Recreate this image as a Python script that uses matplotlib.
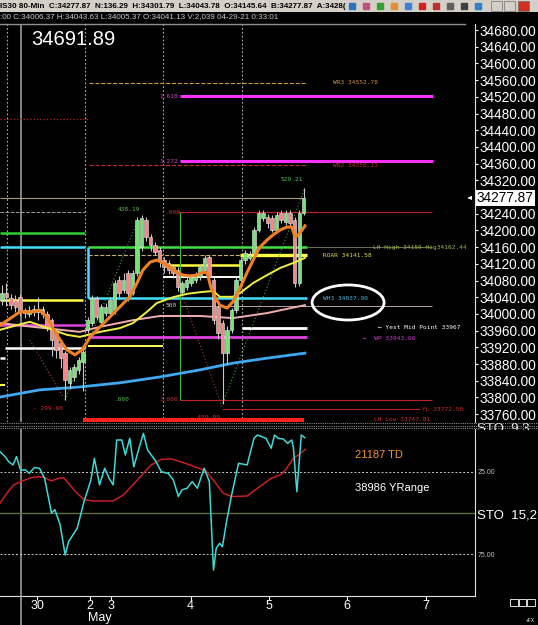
import matplotlib
matplotlib.use("Agg")
import matplotlib.pyplot as plt
from matplotlib.patches import Ellipse, Rectangle
from matplotlib.lines import Line2D
from matplotlib.transforms import blended_transform_factory

plt.rcParams['font.family'] = ['Liberation Sans', 'DejaVu Sans']

W, H = 538, 625

# 80-min candles, one per bar index
opens = [34033, 34050, 34038, 34033, 34040, 34009, 34000, 34004, 34012, 34000,
         34000, 33985, 33954, 33930, 33906, 33835, 33850, 33866, 33885, 33962,
         33978, 34038, 33981, 34002, 34002, 34009, 34081, 34057, 34098, 34050,
         34098, 34160, 34225, 34184, 34165, 34153, 34129, 34122, 34112, 34105,
         34052, 34064, 34074, 34081, 34088, 34105, 34136, 34081, 34017, 33978,
         33906, 33962, 34009, 34081, 34129, 34134, 34146, 34201, 34230, 34232,
         34230, 34201, 34242, 34220, 34242, 34225, 34074, 34242]
closes = [34050, 34040, 34021, 34016, 34004, 34002, 34010, 34012, 34005, 34012,
          33967, 33938, 33914, 33894, 33842, 33866, 33873, 33890, 33909, 33985,
          34038, 33993, 34017, 34017, 34033, 34074, 34050, 34081, 34050, 34098,
          34225, 34230, 34184, 34165, 34148, 34129, 34112, 34105, 34098, 34064,
          34074, 34081, 34088, 34093, 34112, 34134, 34088, 33985, 33954, 33906,
          33962, 34009, 34081, 34129, 34146, 34141, 34201, 34242, 34242, 34218,
          34201, 34237, 34225, 34242, 34218, 34074, 34242, 34278]
highs = [34070, 34075, 34048, 34045, 34048, 34015, 34018, 34022, 34040, 34018,
         34008, 33990, 33960, 33938, 33912, 33872, 33880, 33896, 33925, 33992,
         34045, 34042, 34024, 34025, 34040, 34082, 34090, 34098, 34105, 34105,
         34232, 34238, 34232, 34192, 34172, 34160, 34136, 34130, 34120, 34112,
         34080, 34090, 34095, 34100, 34120, 34141, 34142, 34088, 34022, 33985,
         33970, 34015, 34088, 34136, 34152, 34150, 34208, 34250, 34250, 34240,
         34238, 34244, 34250, 34248, 34248, 34232, 34250, 34302]
lows = [34022, 34020, 34012, 34005, 33995, 33990, 33992, 33995, 33985, 33990,
        33960, 33900, 33895, 33870, 33794, 33820, 33840, 33855, 33815, 33955,
        33970, 33985, 33975, 33996, 33995, 34000, 34040, 34050, 34030, 34045,
        34090, 34150, 34175, 34150, 34140, 34112, 34098, 34095, 34085, 34055,
        34045, 34058, 34068, 34075, 34082, 34098, 34080, 33975, 33940, 33785,
        33880, 33955, 34002, 34075, 34120, 34128, 34140, 34195, 34222, 34205,
        34195, 34196, 34218, 34212, 34210, 34064, 34068, 34236]
last_price = 34277.87

# moving averages (bar, price)
ma_fast_x = [-0.4, 4.0, 6.9, 8.4, 10.0, 11.3, 12.9, 14.4, 16.2, 17.8, 19.6, 21.8,
             24.0, 26.2, 28.4, 30.0, 31.3, 32.9, 34.4, 35.8, 37.3, 38.9, 40.2,
             41.8, 43.3, 44.7, 45.6, 46.4, 47.3, 48.4, 50.0, 51.3, 52.9, 54.4,
             55.8, 57.3, 58.9, 60.2, 61.8, 63.3, 64.4, 65.1, 65.8, 66.7, 67.3]
ma_fast = [33973, 34005, 34005, 34009, 33993, 33966, 33938, 33914, 33902, 33914,
           33945, 33969, 33993, 34017, 34041, 34074, 34105, 34124, 34129, 34122,
           34112, 34100, 34093, 34091, 34093, 34100, 34098, 34064, 34041, 34021,
           34014, 34029, 34062, 34098, 34129, 34160, 34177, 34189, 34201, 34208,
           34208, 34184, 34189, 34201, 34211]
ma_mid_x = [-0.4, 4.0, 6.2, 10.7, 14.4, 17.3, 21.8, 26.2, 29.1, 32.2, 34.4, 38.0,
            41.1, 44.0, 46.9, 48.4, 51.3, 52.9, 55.8, 58.9, 61.8, 64.7, 67.3]
ma_mid = [33962, 33975, 33981, 33964, 33950, 33945, 33957, 33966, 33978, 34005,
          34026, 34040, 34048, 34052, 34055, 34041, 34041, 34050, 34074, 34093,
          34110, 34122, 34134]
ma_slow_x = [-0.4, 6.9, 17.3, 21.8, 29.1, 35.1, 44.0, 51.3, 58.9, 67.3]
ma_slow = [33978, 33969, 33957, 33969, 33985, 33995, 33995, 33990, 34002, 34021]
ma_long_x = [-0.4, 8.4, 17.3, 26.2, 35.1, 44.0, 51.3, 58.9, 67.3]
ma_long = [33801, 33818, 33825, 33835, 33849, 33866, 33882, 33894, 33906]

# stochastic 9,3
sto_k_x = [-0.44, 0.69, 1.47, 2.44, 3.22, 4.13, 5.27, 6.04, 7.18, 8.33,
           9.47, 11.0, 11.76, 12.91, 14.04, 14.8, 16.71, 18.24, 19.76, 20.53,
           21.67, 22.82, 23.8, 24.71, 25.49, 26.62, 27.4, 28.38, 29.29, 30.44,
           31.42, 32.36, 34.24, 35.4, 36.93, 38.07, 39.2, 39.98, 41.11, 42.27,
           43.4, 44.93, 46.07, 47.0, 47.6, 48.36, 48.98, 49.89, 51.02, 52.56,
           54.47, 55.98, 56.76, 58.67, 59.8, 60.56, 61.33, 62.47, 63.47, 64.38,
           64.76, 65.51, 66.51, 67.27]
sto_k = [12.9, 15.9, 18.9, 20.9, 15.9, 24, 24, 26, 22.5, 22.9,
         29, 50, 48, 57, 75.4, 67.3, 59.2, 43, 30, 16.9,
         33, 22.9, 29, 33, 5.8, 5.8, 14.9, 4.8, 22, 10.8,
         1.8, 11.9, 18.9, 25, 26, 30, 40, 36, 35, 31,
         35, 22.9, 31, 84.5, 71.3, 68.3, 70.4, 55.2, 39.1, 19.9,
         20.9, 4.8, 2.8, 4.8, 10.8, 2.8, 4.8, 5.2, 7.8, 5.8,
         10.8, 37.1, 2.8, 4.4]
sto_d_x = [-0.44, 1.09, 2.6, 4.13, 6.42, 8.33, 9.47, 11.0, 12.51, 13.67,
           14.8, 16.33, 18.24, 20.16, 24.71, 27.0, 30.07, 33.11, 35.4, 37.69,
           40.73, 43.78, 45.31, 47.22, 49.13, 51.02, 54.47, 56.76, 59.8, 62.09,
           63.24, 64.76, 66.29, 67.42]
sto_d = [44, 38, 33, 31, 28.6, 28, 28.6, 30.6, 29, 28.6,
         32, 37, 42, 42.7, 42.7, 39, 30, 21, 17.5, 17.3,
         19.9, 22.9, 24.6, 31, 38, 40, 39.7, 35, 29, 26.6,
         22.9, 16.9, 13.9, 11.4]

# time axis
day_ticks = [7.78, 19.47, 24.33, 41.89, 59.42, 76.73, 94.27]
day_labels = ['30', '2', '3', '4', '5', '6', '7']
day_breaks = [1.11, 18.44, 35.78, 53.33]
cursor_bar = 4.29

price_ticks = [34680 - 40 * k for k in range(24) if k != 10]

# horizontal levels: price, first bar, last bar
level_price = [34552.78, 34356.13, 34522, 34366, 34467, 34277, 34243, 34243,
               34193, 34161, 34161, 34161, 34037.9, 34141, 34033, 34117,
               34141.58, 33924, 33830, 33918, 33894, 34088, 33967, 33973,
               33943.66, 34019, 33794, 33772.5, 33746]
level_start = [19.33, 19.33, 39.56, 39.56, -0.5, -0.5, 39.11, -0.5,
               -0.5, -0.5, 19.18, 67.7, 19.18, 19.18, -0.5, 35.78,
               52.89, 19.18, -0.5, 0.67, -0.5, 35.78, 53.27, -0.5,
               19.18, 39.56, 39.56, 48.82, 18.0]
level_end = [67.78, 67.78, 95.78, 95.78, 19.0, 66.89, 95.49, 18.44,
             18.44, 18.44, 67.7, 95.49, 67.71, 52.89, 18.0, 52.89,
             67.71, 35.78, 0.67, 18.44, 0.67, 52.89, 67.71, 18.44,
             67.71, 95.49, 95.49, 92.89, 67.0]
level_color = ['#d09848', '#c03030', '#ff30ff', '#ff30ff', '#c02020', '#a8a070',
               '#c02020', '#a0a0a0', '#30d030', '#40e0ff', '#40e040', '#808060',
               '#40e0ff', '#c0b080', '#ffff40', '#ffff40', '#ffff40', '#ffff60',
               '#ffff40', 'white', 'white', 'white', 'white', '#e040e0',
               '#e040e0', '#b8a0a0', '#c02020', '#c02020', '#ff2020']
level_width = [0.8, 0.8, 2.2, 2.2, 0.9, 0.8, 0.8, 0.7, 1.8, 1.8, 1.8, 0.6,
               1.8, 0.8, 1.8, 1.8, 2.4, 1.4, 1.5, 1.8, 1.8, 1.4, 2.0, 1.8,
               2.0, 0.7, 0.8, 0.8, 3.0]
level_style = ['--', '--', '-', '-', ':', '-', '-', '--', '-', '-', '-', '-',
               '-', '--', '-', '-', '-', '-', '-', '-', '-', '-', '-', '-',
               '-', '-', '-', '-', '-']

# fib / swing drawing tools (bar, price)
swing_lines = [((14.0, 33794), (30.2, 34225), '#40a040'),
               ((6.2, 33937), (13.6, 33801), '#a05050'),
               ((38.9, 34081), (48.9, 33777), '#a04040'),
               ((49.1, 33787), (67.3, 34302), '#40a040')]

labels = [(39.07, 34521, '1.618', '#d040d0', 'right'),
          (39.07, 34365, '1.272', '#d040d0', 'right'),
          (73.56, 34553.8, 'WR3 34552.78', '#d09040', 'left'),
          (73.56, 34356, 'WR2 34356.13', '#c03030', 'left'),
          (61.8, 34321, '529.21', '#50c050', 'left'),
          (25.8, 34251, '438.19', '#50c050', 'left'),
          (36.4, 34243, '.000', '#d03030', 'left'),
          (36.4, 34019, '500', '#d0d0d0', 'left'),
          (34.9, 33794, '1.000', '#d03030', 'left'),
          (25.1, 33794, '.000', '#50c050', 'left'),
          (6.9, 33774, '- 299.90', '#d03030', 'left'),
          (41.8, 33753, '- 459.99', '#d03030', 'left'),
          (82.7, 33746, 'LH Low 33747.01', '#d03030', 'left'),
          (82.4, 34159, 'LH High 34150 Hig34162.44', '#98c040', 'left'),
          (71.3, 34139, 'ROAR 34141.58', '#e0e040', 'left'),
          (71.3, 34036, 'WH3 34037.90', '#40c0e0', 'left'),
          (83.6, 33967, '\u2190 Yest Mid Point 33967', 'white', 'left'),
          (80.2, 33942, '\u2190  WP 33943.66', '#d040d0', 'left'),
          (93.3, 33770, 'YL 33772.50', '#d03030', 'left')]

fig = plt.figure(figsize=(W / 100, H / 100), dpi=100, facecolor='black')
ax = fig.add_axes([0, 1 - 422 / H, 475 / W, 398 / H], facecolor='black')
ax2 = fig.add_axes([0, 1 - 596 / H, 475 / W, 167 / H], facecolor='black', sharex=ax)
ax.set_xlim(-0.444, 105.1)
ax.set_ylim(33741.1, 34694.4)
ax2.set_ylim(100.2, -0.85)

for a in (ax, ax2):
    for s in a.spines.values():
        s.set_visible(False)
    a.spines['right'].set_visible(True)
    a.spines['right'].set_color('#e0e0e0')
ax2.spines['bottom'].set_visible(True)
ax2.spines['bottom'].set_color('#e0e0e0')

# --- price panel
for b in day_breaks:
    ax.axvline(b, color='#b0b0b0', ls=(0, (1.5, 2)), lw=0.8, zorder=1)
ax.axvline(cursor_bar, color='#9a9a9a', lw=1.2, zorder=2)
ax2.axvline(cursor_bar, color='#9a9a9a', lw=1.2, zorder=2)

for p, s, e, c, w, st in zip(level_price, level_start, level_end,
                             level_color, level_width, level_style):
    ax.hlines(p, s, e, colors=c, linewidth=w, linestyles=st, zorder=2)
ax.vlines(19.18, 34037.9, 34161, colors='#40e0ff', linewidth=1.8, zorder=2)
ax.vlines(39.56, 33794, 34243, colors='#40b040', linewidth=0.8, zorder=2)

for (x0, y0), (x1, y1), c in swing_lines:
    ax.plot([x0, x1], [y0, y1], color=c, ls=(0, (1, 2)), lw=0.8, zorder=2)

ax.plot(ma_long_x, ma_long, color='#40a8f0', lw=2.0, zorder=3)
ax.plot(ma_slow_x, ma_slow, color='#f0b0b0', lw=1.4, zorder=3)
ax.plot(ma_mid_x, ma_mid, color='#f0f040', lw=1.4, zorder=5)

for i in range(len(closes)):
    up = closes[i] >= opens[i]
    ax.vlines(i, lows[i], highs[i], colors='#c8c8c8', linewidth=0.8, zorder=3)
    lo, hi = min(opens[i], closes[i]), max(opens[i], closes[i])
    ax.add_patch(Rectangle((i - 0.34, lo), 0.68, max(hi - lo, 2),
                           facecolor='#78e078' if up else '#f08888',
                           edgecolor='#e8e8e8', lw=0.4, zorder=4))

ax.plot(ma_fast_x, ma_fast, color='#f08020', lw=2.2, zorder=6)

ax.add_patch(Ellipse((76.9, 34027.4), 16.0, 84, fill=False,
                     edgecolor='white', lw=2, zorder=6))

for x, y, t, c, ha in labels:
    ax.text(x, y, t, color=c, fontsize=4.4, family='DejaVu Sans Mono',
            ha=ha, va='center', zorder=7)

ax.yaxis.tick_right()
ax.set_yticks(price_ticks)
ax.set_yticklabels([f"{v:.2f}" for v in price_ticks])
ax.tick_params(axis='y', colors='white', labelsize=9.8, length=2.5, pad=1)
ax.tick_params(axis='x', bottom=False, labelbottom=False)

bt = blended_transform_factory(ax.transAxes, ax.transData)
ax.text(1.004, last_price, f"{last_price:.2f}", transform=bt, fontsize=9.8,
        color='black', va='center', ha='left', clip_on=False, zorder=8,
        bbox=dict(facecolor='white', edgecolor='none', pad=0.8))
ax.annotate('', xy=(102.8, last_price), xytext=(104.6, last_price),
            arrowprops=dict(arrowstyle='-|>', color='white', lw=0.8,
                            mutation_scale=5))

fig.text(31 / W, 1 - 45 / H, "34691.89", fontsize=14.5, color='white',
         va='baseline')

# --- stochastic panel
ax2.axhline(25, color='#c8c8c8', ls=(0, (2, 2)), lw=0.7)
ax2.axhline(75, color='#c8c8c8', ls=(0, (2, 2)), lw=0.7)
ax2.axhline(50, color='#5a7040', lw=1.0)
ax2.plot(sto_d_x, sto_d, color='#c82020', lw=1.1, zorder=3)
ax2.plot(sto_k_x, sto_k, color='#40d8d8', lw=1.1, zorder=4)

ax2.yaxis.tick_right()
ax2.set_yticks([25, 75])
ax2.set_yticklabels(['25.00', '75.00'])
ax2.tick_params(axis='y', colors='#c0c0c0', labelsize=5, length=0, pad=2)
ax2.set_xticks(day_ticks)
ax2.set_xticklabels(day_labels)
ax2.tick_params(axis='x', colors='white', labelsize=9, length=3, pad=0)

fig.text(355 / W, 1 - 455 / H, "21187 TD", fontsize=8, color='#f09030',
         va='center')
fig.text(355 / W, 1 - 488 / H, "38986 YRange", fontsize=8, color='white',
         va='center')
fig.text(477 / W, 1 - 515 / H, "STO  15,2", fontsize=9.5, color='white',
         va='center')
fig.text(477 / W, 1 - 422.5 / H, "STO  9,3", fontsize=9.5, color='white',
         va='top', zorder=3)
fig.add_artist(Rectangle((476 / W, 1 - 440 / H), 62 / W, 10.5 / H,
                         transform=fig.transFigure, facecolor='black',
                         edgecolor='none', zorder=4))
for yy in (423.3, 426, 428.3):
    fig.add_artist(Line2D([0, 1], [1 - yy / H] * 2, color='#8a8a8a',
                          ls=(0, (1, 1)), lw=0.8, zorder=5))
fig.add_artist(Line2D([21.3 / W] * 2, [0, 1 - 596 / H], color='#9a9a9a', lw=1.2))
fig.text(99.5 / W, 1 - 618.5 / H, "May", fontsize=9, color='white',
         ha='center', va='center')
for bx in (510, 518.5, 527):
    fig.add_artist(Rectangle((bx / W, 1 - 606 / H), 7.5 / W, 7.5 / H,
                             transform=fig.transFigure, facecolor='none',
                             edgecolor='white', lw=0.6))
fig.text(526 / W, 1 - 621 / H, "+FX", fontsize=3.5, color='white', va='center')

# --- header
fig.add_artist(Rectangle((0, 1 - 12 / H), 1, 12 / H, transform=fig.transFigure,
                         facecolor='#d4d0c8', edgecolor='none'))
fig.text(0, 1 - 6 / H, "IS30 80-Min  C:34277.87  N:136.29  H:34301.79  "
         "L:34043.78  O:34145.64  B:34277.87  A:3428(", fontsize=5.75,
         weight='bold', color='black', va='center')
fig.text(0, 1 - 16.5 / H, ":00 C:34006.37 H:34043.63 L:34005.37 O:34041.13 "
         "V:2,039 04-29-21 0:33:01", fontsize=5.8, color='#c8c8c8', va='center')
fig.add_artist(Line2D([0, 465 / W], [1 - 24 / H] * 2, color='#909090', lw=1))
icon_x = [352, 366, 380, 394, 408, 422, 436, 450, 464, 478]
icon_c = ['#3070c0', '#c05080', '#30a030', '#e09030', '#4080d0', '#d02020',
          '#c03030', '#606060', '#404040', '#3080d0']
for ix, ic in zip(icon_x, icon_c):
    fig.add_artist(Line2D([ix / W], [1 - 6 / H], marker='s', markersize=5,
                          color=ic, lw=0))
for bx, fc in ((491, '#d4d0c8'), (504, '#d4d0c8'), (518, '#d03020')):
    fig.add_artist(Rectangle((bx / W, 1 - 11 / H), 11 / W, 10 / H,
                             transform=fig.transFigure, facecolor=fc,
                             edgecolor='#707070', lw=0.5))

fig.savefig("out.png", dpi=100, facecolor='black')
